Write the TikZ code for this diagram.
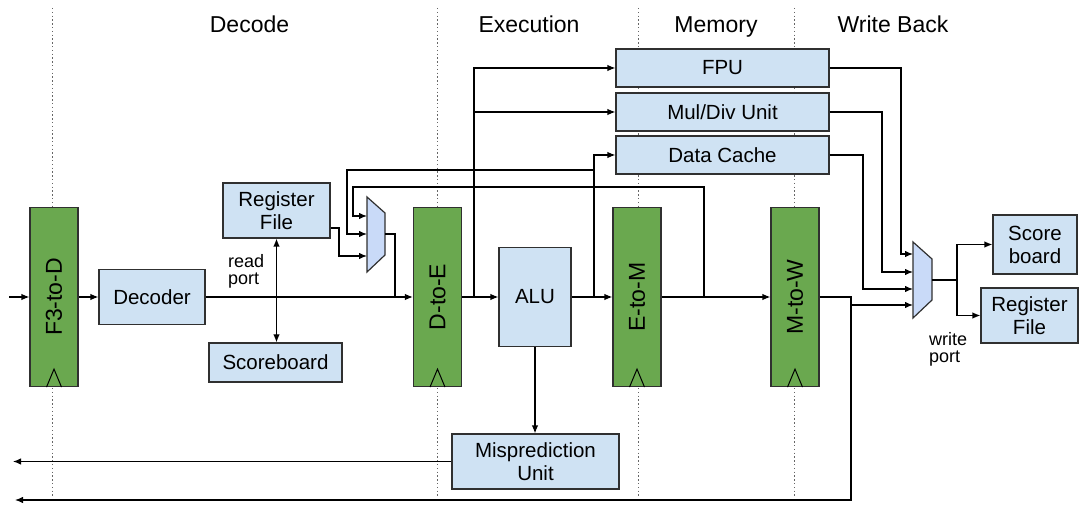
\documentclass[tikz,border=0pt]{standalone}
\usepackage{fontspec}
\setmainfont{Liberation Sans}
\usetikzlibrary{arrows.meta}
\definecolor{regG}{HTML}{6AA84F}
\definecolor{boxB}{HTML}{CFE2F3}
\definecolor{muxB}{HTML}{C9DAF8}
\definecolor{edge}{HTML}{303030}

\begin{document}
\begin{tikzpicture}[x=1pt,y=-1pt,
  stage/.style={draw=black!60, line width=0.9pt, dash pattern=on 1.4pt off 2.4pt},
  unit/.style={draw=edge, fill=boxB, line width=1.2pt, inner sep=0pt, align=center,
    font=\fontsize{20.5}{23}\selectfont},
  pipe/.style={draw=edge, fill=regG, line width=1.2pt, minimum width=48, minimum height=179,
    inner sep=0pt, font=\fontsize{23}{26}\selectfont},
  mux/.style={draw=edge, fill=muxB, line width=1.2pt},
  wire/.style={draw=black, line width=1.2pt},
  arr/.style={wire, -{Latex[length=8pt,width=6.5pt]}},
  biarr/.style={wire, {Latex[length=8pt,width=6.5pt]}-{Latex[length=8pt,width=6.5pt]}},
  clk/.style={draw=black, line width=1pt},
  hdr/.style={font=\fontsize{23}{26}\selectfont, inner sep=0pt, anchor=base},
  port/.style={font=\fontsize{18}{17.5}\selectfont, align=left, inner sep=0pt, anchor=north west},
]
\useasboundingbox (0,0) rectangle (1080,505);

% stage boundaries
\foreach \x in {52,437,638,794} \draw[stage] (\x,8) -- (\x,498);

% stage titles
\node[hdr] (tDec) at (249.5,33) {Decode};
\node[hdr] (tExe) at (529,33) {Execution};
\node[hdr] (tMem) at (716,33) {Memory};
\node[hdr] (tWb)  at (893,33) {Write Back};

% pipeline registers
\node[pipe] (fd) at (54,297)    {\rotatebox{90}{F3-to-D}};
\node[pipe] (de) at (437.5,297) {\rotatebox{90}{D-to-E}};
\node[pipe] (em) at (637,297)   {\rotatebox{90}{E-to-M}};
\node[pipe] (mw) at (795,297)   {\rotatebox{90}{M-to-W}};
\foreach \r in {fd,de,em,mw}
  \draw[clk] ([shift={(-7.5,0)}]\r.south) -- ([shift={(0,-18)}]\r.south) -- ([shift={(7.5,0)}]\r.south);

% functional units
\node[unit, minimum width=106, minimum height=55] (dec) at (152,297) {Decoder};
\node[unit, minimum width=107, minimum height=55] (rfL) at (276.5,210.5) {Register\\File};
\node[unit, minimum width=133, minimum height=39] (sbL) at (275.5,362.5) {Scoreboard};
\node[unit, minimum width=72, minimum height=99] (alu) at (535,297) {ALU};
\node[unit, minimum width=213, minimum height=38] (fpu) at (722.5,68) {FPU};
\node[unit, minimum width=213, minimum height=38] (mdu) at (722.5,112) {Mul/Div Unit};
\node[unit, minimum width=213, minimum height=38] (dc) at (722.5,155) {Data Cache};
\node[unit, minimum width=167, minimum height=55] (mis) at (535.5,461.5) {Misprediction\\Unit};
\node[unit, minimum width=84, minimum height=59] (sbR) at (1035,244.5) {Score\\board};
\node[unit, minimum width=97, minimum height=55] (rfR) at (1029.5,315.5) {Register\\File};

% operand multiplexer
\draw[mux] (367,197) -- (385,213) -- (385,255) -- (367,272) -- cycle;
\coordinate (mLa) at (367,216);
\coordinate (mLb) at (367,234);
\coordinate (mLc) at (367,256);
\coordinate (mLo) at (385,234);

% write-back multiplexer
\draw[mux] (913,242) -- (932,259) -- (932,300) -- (913,318) -- cycle;
\coordinate (mRa) at (913,254);
\coordinate (mRb) at (913,272);
\coordinate (mRc) at (913,289);
\coordinate (mRd) at (913,305);
\coordinate (mRo) at (932,280);

% port labels
\node[port] (rdp) at (228,254) {read\\port};
\node[port] (wrp) at (929,332) {write\\port};

% main datapath
\coordinate (inL) at (9,297);
\draw[arr] (inL) -- (fd.west);
\draw[arr] (fd.east) -- (dec.west);
\draw[arr] (dec.east) -- (de.west);
\draw[wire] (mLo) -| (395,297);
\draw[biarr] (rfL.south) -- (rfL.south |- sbL.north);
\draw[arr] (rfL.east |- 0,228) -- (339,228) |- (mLc);
\draw[arr] (de.east) -- (alu.west);
\draw[arr] (alu.east) -- (em.west);
\draw[arr] (em.east) -- (mw.west);

% issue to long-latency units
\coordinate (jD) at (474,297);
\draw[arr] (jD) |- (fpu.west);
\draw[arr] (474,112) -- (mdu.west);

% ALU result: data cache address and bypass
\coordinate (jA) at (594,297);
\draw[arr] (jA) |- (dc.west);
\draw[arr] (594,170) -- (347,170) |- (mLb);

% memory-stage bypass
\coordinate (jM) at (704,297);
\draw[arr] (jM) -- (704,187) -- (353,187) |- (mLa);

% branch resolution
\coordinate (misOut) at (13,461.5);
\draw[arr] (alu.south) -- (alu.south |- mis.north);
\draw[arr] (mis.west) -- (misOut);

% write-back path
\coordinate (wbOut) at (15,500);
\draw[arr] (mw.east) -- (851,297) -- (851,500) -- (wbOut);
\draw[arr] (851,305) -- (mRd);
\draw[arr] (fpu.east) -- (901,68) |- (mRa);
\draw[arr] (mdu.east) -- (882,112) |- (mRb);
\draw[arr] (dc.east) -- (863,155) |- (mRc);
\coordinate (jW) at (957,280);
\draw[wire] (mRo) -- (jW);
\draw[arr] (jW) |- (sbR.west);
\draw[arr] (jW) |- (rfR.west);
\end{tikzpicture}
\end{document}
